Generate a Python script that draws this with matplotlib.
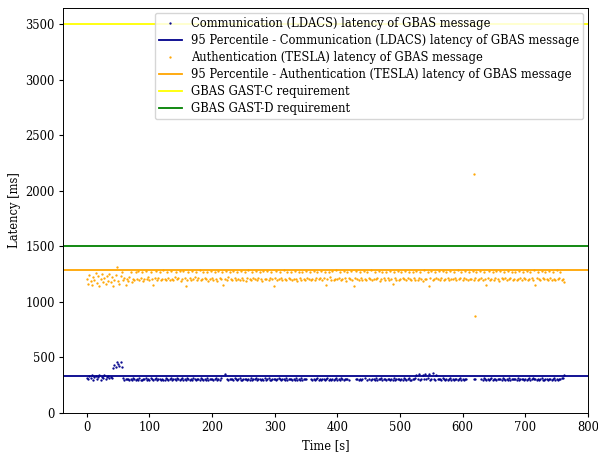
import numpy as np
import matplotlib
matplotlib.use("Agg")
import matplotlib.pyplot as plt

nan = np.nan

# Sampling times [s] (regular 2 s log grid)
time_s = list(range(0, 764, 2))

comm_latency = [
    318, 305, 330, 312, 340, 298, 325, 335, 310, 322, 345, 300, 328, 315, 338, 306, 320, 332, 312, 326,
    315, nan, nan, nan, nan, nan, nan, nan, nan, 312, 298, 305, 310, 302, 296, 308, 300, 312, 304, 299,
    305, 298, 312, 301, 295, 309, 303, 316, 300, 307, 294, 311, 302, 298, 306, 313, 299, 304, 310, 296,
    308, 301, 297, 314, 303, 299, 306, 311, 295, 302, 309, 300, 318, 304, 297, 307, 312, 299, 303, 296,
    311, 304, 298, 307, 300, 315, 302, 296, 309, 305, 299, 312, 303, 297, 306, 301, 314, 298, 305, 310,
    302, 296, 308, 313, 299, 305, 300, 311, nan, nan, 350, nan, 304, 298, 310, 302, 307, 295, 312, 303,
    299, 306, 314, 301, 297, 308, 303, 310, 296, 305, 300, 312, 298, 307, 302, 316, 299, 304, 309, 297,
    306, 301, 311, 298, 304, 313, 300, 296, 308, 303, 310, 299, 305, 315, 302, 297, 309, 304, 300, 312,
    298, 307, 303, 310, 296, 305, 301, 314, 299, 306, 300, 311, 297, 304, 309, 302, nan, nan, nan, 303,
    296, 308, 301, 305, 312, 299, 304, 297, 310, 303, 300, 307, 315, 298, 305, 301, 309, 296, 304, 311,
    300, 306, 298, 313, 303, 297, 309, 302, 305, 299, nan, nan, nan, nan, nan, 304, 310, 298, 306, 301,
    303, nan, 312, nan, 298, 306, nan, 301, 309, 304, 297, 311, 300, 306, 302, 314, 299, 305, 308, 296,
    304, 310, 299, 306, 301, 313, 297, 305, 302, 309, 300, 307, 296, 311, 303, 299, 306, 315, 301, 298,
    308, 304, 312, 345, 305, 352, 300, 310, 340, 306, 355, 303, 311, 348, 301, 308, 360, 304, 298, 342,
    309, 302, 306, 299, 313, 304, 300, 308, 297, 305, 311, 301, 307, 296, 310, 303, 299, 306, 312, 300,
    305, 298, 310, 303, nan, nan, nan, nan, nan, 302, 308, nan, nan, nan, nan, 306, 300, 311, 304, 297,
    309, 301, 306, 313, 299, 304, 310, 297, 305, 302, 308, 300, 314, 303, 298, 307, 301, 311, 296, 305,
    302, 309, 304, 298, 312, 300, 306, 303, 310, 297, 305, 301, 308, 315, 299, 304, 311, 302, 306, 300,
    307, 299, 305, 312, 301, 296, 309, 304, 300, 310, 303, 298, 306, 313, 301, 305, 299, 308, 302, 311,
    318, 345,
]

comm_outlier_t = [42, 44, 46, 48, 50, 52, 54, 56]
comm_outlier_v = [405, 430, 418, 455, 440, 425, 460, 412]

auth_latency = [
    1210, 1165, 1240, 1185, 1150, 1225, 1195, 1260, 1170, 1230, 1145, 1205, 1250, 1180, 1215, 1160, 1235, 1190, 1255, 1175,
    1220, 1140, 1200, 1245, 1310, 1185, 1160, 1230, 1270, 1195, 1215, 1150, 1205, 1190, 1225, 1270, 1180, 1210, 1200, 1265,
    1205, 1275, 1198, 1215, 1270, 1190, 1210, 1280, 1202, 1220, 1195, 1268, 1208, 1150, 1212, 1278, 1200, 1218, 1272, 1196,
    1210, 1283, 1204, 1193, 1266, 1215, 1200, 1276, 1208, 1197, 1222, 1270, 1203, 1212, 1281, 1191, 1206, 1274, 1219, 1140,
    1201, 1269, 1213, 1196, 1279, 1207, 1220, 1265, 1199, 1211, 1284, 1194, 1205, 1273, 1216, 1202, 1268, 1190, 1209, 1277,
    1214, 1198, 1271, 1206, 1192, 1282, 1217, 1203, 1267, 1155, 1210, 1275, 1197, 1221, 1270, 1205, 1193, 1280, 1212, 1200,
    1266, 1208, 1195, 1278, 1214, 1201, 1272, 1190, 1218, 1283, 1204, 1196, 1269, 1211, 1207, 1276, 1199, 1216, 1265, 1203,
    1192, 1274, 1210, 1205, 1281, 1198, 1219, 1267, 1202, 1145, 1213, 1277, 1195, 1208, 1270, 1216, 1200, 1284, 1206, 1193,
    1271, 1215, 1203, 1266, 1197, 1210, 1279, 1205, 1191, 1273, 1218, 1201, 1268, 1208, 1196, 1282, 1212, 1204, 1270, 1199,
    1209, 1275, 1194, 1217, 1265, 1203, 1211, 1280, 1198, 1214, 1272, 1150, 1206, 1269, 1220, 1200, 1277, 1193, 1208, 1284,
    1202, 1215, 1270, 1197, 1206, 1278, 1211, 1190, 1266, 1219, 1204, 1274, 1199, 1140, 1212, 1281, 1205, 1196, 1268, 1213,
    1200, 1276, 1208, 1194, 1271, 1216, 1203, 1283, 1198, 1210, 1267, 1205, 1218, 1279, 1192, 1207, 1272, 1213, 1201, 1265,
    1211, 1196, 1280, 1204, 1160, 1270, 1215, 1200, 1276, 1193, 1209, 1268, 1217, 1202, 1282, 1198, 1212, 1273, 1206, 1195,
    1266, 1213, 1201, 1279, 1197, 1219, 1271, 1205, 1192, 1284, 1210, 1203, 1269, 1145, 1214, 1277, 1199, 1208, 1265, 1216,
    1204, 1274, 1196, 1211, 1281, 1200, 1207, 1267, 1218, 1193, 1275, 1209, 1202, 1270, 1215, 1197, 1283, 1206, 1212, 1268,
    1199, 1214, 1276, 1203, 1195, 1272, 1210, 1208, 1280, 1201, 1217, 1266, 1194, 1205, 1278, 1212, 1198, 1270, 1206, 1155,
    1213, 1279, 1200, 1209, 1267, 1196, 1216, 1274, 1204, 1192, 1282, 1211, 1203, 1269, 1218, 1199, 1276, 1207, 1214, 1265,
    1201, 1210, 1273, 1195, 1206, 1281, 1212, 1198, 1268, 1217, 1204, 1277, 1193, 1209, 1271, 1215, 1200, 1284, 1150, 1211,
    1266, 1205, 1197, 1275, 1213, 1202, 1270, 1208, 1194, 1279, 1216, 1201, 1267, 1210, 1199, 1283, 1206, 1212, 1272, 1196,
    1204, 1180,
]

auth_outlier_t = [618, 620]
auth_outlier_v = [2150, 870]

comm_p95 = 335
auth_p95 = 1288
gast_c = 3500
gast_d = 1500

labels = [
    "Communication (LDACS) latency of GBAS message",
    "95 Percentile - Communication (LDACS) latency of GBAS message",
    "Authentication (TESLA) latency of GBAS message",
    "95 Percentile - Authentication (TESLA) latency of GBAS message",
    "GBAS GAST-C requirement",
    "GBAS GAST-D requirement",
]

plt.rcParams['font.family'] = ['DejaVu Serif']
plt.rcParams['font.size'] = 8.3
plt.rcParams['xtick.major.size'] = 2.9
plt.rcParams['ytick.major.size'] = 2.9
plt.rcParams['xtick.major.pad'] = 2.9
plt.rcParams['ytick.major.pad'] = 2.9
plt.rcParams['axes.labelpad'] = 3.3
plt.rcParams['axes.linewidth'] = 0.7

fig = plt.figure(figsize=(5.98, 4.53), dpi=100)
ax = fig.add_axes([63/598, 40/453, 525/598, 405/453])

ct = time_s + comm_outlier_t
cv = comm_latency + comm_outlier_v
at = time_s + auth_outlier_t
av = auth_latency + auth_outlier_v

ax.plot(ct, cv, linestyle='none', marker='.', markersize=1.3, color='darkblue', label=labels[0])
ax.axhline(comm_p95, color='darkblue', linewidth=1.3, label=labels[1])
ax.plot(at, av, linestyle='none', marker='.', markersize=1.3, color='orange', label=labels[2])
ax.axhline(auth_p95, color='orange', linewidth=1.3, label=labels[3])
ax.axhline(gast_c, color='yellow', linewidth=1.3, label=labels[4])
ax.axhline(gast_d, color='green', linewidth=1.3, label=labels[5])

ax.set_xlim(-38.1, 800.1)
ax.set_ylim(0, 3645)
ax.set_xlabel("Time [s]")
ax.set_ylabel("Latency [ms]")
ax.set_xticks([0, 100, 200, 300, 400, 500, 600, 700, 800])
ax.legend(loc='upper right', borderaxespad=0.4, labelspacing=0.35, borderpad=0.35)

fig.savefig("out.png", dpi=100)
